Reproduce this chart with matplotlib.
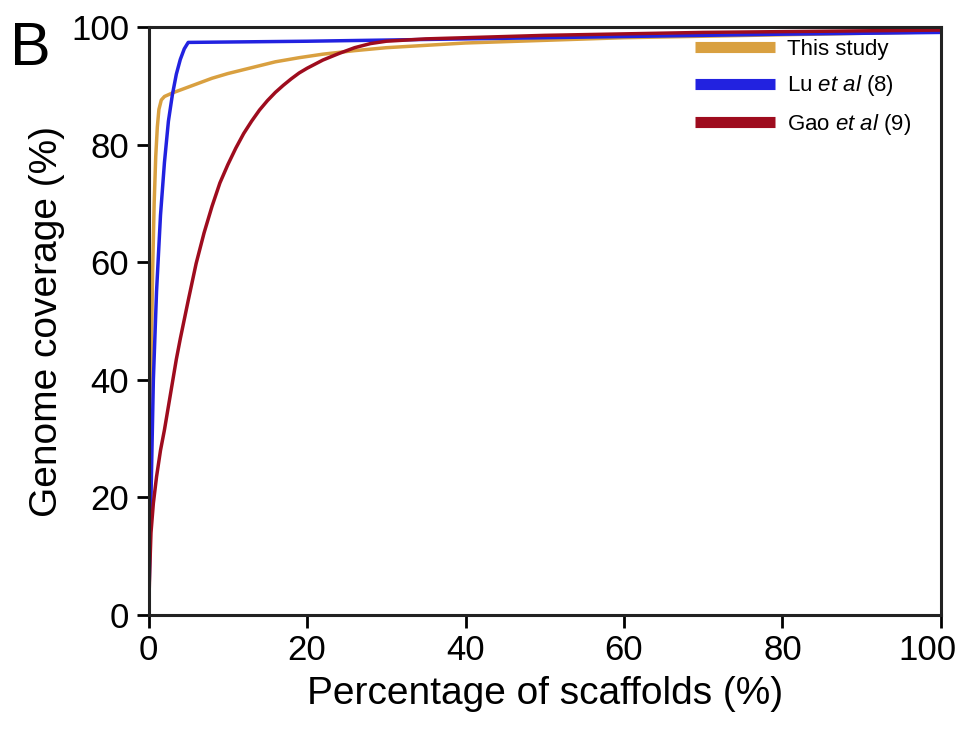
import matplotlib
matplotlib.use("Agg")
import matplotlib.pyplot as plt
import matplotlib.transforms as mtransforms

plt.rcParams['font.family'] = ['Liberation Sans', 'DejaVu Sans']
plt.rcParams['mathtext.fontset'] = 'custom'
plt.rcParams['mathtext.rm'] = 'Liberation Sans'
plt.rcParams['mathtext.it'] = 'Liberation Sans:italic'

# cumulative genome coverage vs percentage of scaffolds
this_x = [0, 0.1, 0.2, 0.35, 0.5, 0.7, 0.9, 1.1, 1.3, 1.6, 2, 3, 4, 6, 8, 10,
          13, 16, 19, 22, 26, 30, 40, 60, 80, 100]
this_y = [0, 15, 30, 45, 58, 70, 78, 83, 86, 87.6, 88.2, 88.8, 89.3, 90.3, 91.3,
          92.1, 93.1, 94.1, 94.8, 95.4, 96.0, 96.5, 97.3, 98.2, 98.7, 99.2]

lu_x = [0, 0.3, 0.6, 1.0, 1.5, 2.0, 2.5, 3.0, 3.5, 4.0, 4.5, 5.0, 20, 50, 80, 100]
lu_y = [0, 20, 40, 55, 68, 77, 84, 88.5, 92, 94.5, 96.3, 97.4, 97.6, 98.2, 98.8, 99.1]

gao_x = [0, 0.15, 0.3, 0.6, 1, 1.5, 2, 2.5, 3, 3.5, 4, 5, 6, 7, 8, 9, 10, 11,
         12, 13, 14, 15, 16, 17, 18, 19, 20, 22, 24, 26, 28, 30, 35, 50, 70, 100]
gao_y = [0, 8, 14, 19, 23.5, 28, 31.5, 35.5, 39.5, 43.5, 47, 53.5, 59.8, 65,
         69.5, 73.5, 76.6, 79.4, 81.9, 84, 85.9, 87.5, 88.9, 90.1, 91.2, 92.2,
         93, 94.4, 95.5, 96.5, 97.2, 97.6, 98, 98.6, 99.1, 99.5]

ticks = [0, 20, 40, 60, 80, 100]

fig = plt.figure(figsize=(9.65, 7.33), dpi=100)
ax = fig.add_axes([0.154, 0.161, 0.821, 0.802])

ax.plot(this_x, this_y, color='#d9a040', lw=2.5, label='This study')
ax.plot(lu_x, lu_y, color='#2222e0', lw=2.5, label=r'Lu $\mathit{et\ al}$ (8)')
ax.plot(gao_x, gao_y, color='#9e0c1e', lw=2.5, label=r'Gao $\mathit{et\ al}$ (9)')

ax.set_xlim(0, 100)
ax.set_ylim(0, 100)
ax.set_xticks(ticks)
ax.set_yticks(ticks)
ax.tick_params(direction='out', length=9, width=2, labelsize=25, pad=5)
for s in ax.spines.values():
    s.set_linewidth(2.2)
    s.set_color('#222222')

# last x tick label sits a bit to the left, as in the original
lbl = ax.get_xticklabels()[-1]
lbl.set_transform(lbl.get_transform() +
                  mtransforms.ScaledTranslation(-13 / 100, 0, fig.dpi_scale_trans))

ax.set_xlabel('Percentage of scaffolds (%)', fontsize=28, labelpad=6)
ax.set_ylabel('Genome coverage (%)', fontsize=28, labelpad=4)

leg = ax.legend(loc='upper left', bbox_to_anchor=(0.68, 0.993), frameon=False,
                fontsize=16, handlelength=3.6, handletextpad=0.55,
                labelspacing=0.6, borderaxespad=0, borderpad=0.35)
for h in leg.get_lines():
    h.set_linewidth(8)
    h.set_solid_capstyle('butt')

fig.text(0.01, 0.912, 'B', fontsize=44)

fig.savefig('out.png', dpi=100)
